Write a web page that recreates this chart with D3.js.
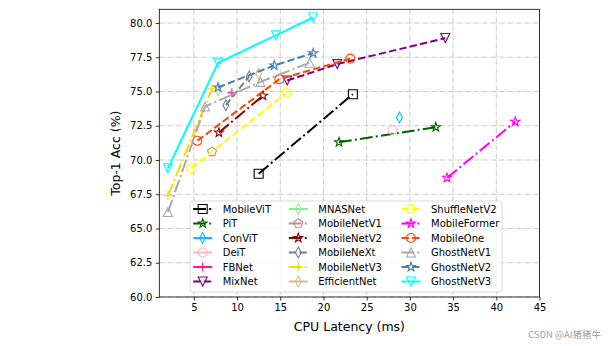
<!DOCTYPE html>
<html><head><meta charset="utf-8">
<script src="https://cdn.jsdelivr.net/npm/d3@7"></script>
<style>body{margin:0;background:#fff;} svg{display:block;font-family:"DejaVu Sans",sans-serif;}</style>
</head><body><svg id="c" width="608" height="346"></svg>
<script>
// ---- data ----
const models = ["MobileViT","PiT","ConViT","DeiT","FBNet","MixNet",
  "MNASNet","MobileNetV1","MobileNetV2","MobileNeXt","MobileNetV3","EfficientNet",
  "ShuffleNetV2","MobileFormer","MobileOne","GhostNetV1","GhostNetV2","GhostNetV3"];
const latency = [
  [12.5, 23.4],
  [21.8, 33.0],
  [28.8],
  [28.0],
  [9.4],
  [15.8, 21.6, 34.1],
  [7.8],
  [7.1],
  [7.9, 13.0],
  [8.7, 11.4],
  [2.0, 7.1],
  [12.5],
  [4.7, 15.7],
  [34.3, 42.2],
  [5.4, 14.9, 23.1],
  [2.0, 6.3, 12.7, 18.4],
  [7.8, 14.3, 18.8],
  [2.0, 7.8, 14.5, 18.8]
];
const accuracy = [
  [69.0, 74.8],
  [71.3, 72.4],
  [73.1],
  [72.2],
  [74.9],
  [75.8, 77.0, 78.9],
  [75.1],
  [70.6],
  [72.0, 74.7],
  [74.0, 76.1],
  [67.4, 75.2],
  [76.3],
  [69.4, 74.9],
  [68.7, 72.8],
  [71.4, 75.9, 77.4],
  [66.2, 73.9, 75.7, 77.1],
  [75.3, 76.9, 77.8],
  [69.4, 77.1, 79.1, 80.4]
];
const xTicks = [5,10,15,20,25,30,35,40,45];
const yTicks = [60,62.5,65,67.5,70,72.5,75,77.5,80];
const xLabel = "CPU Latency (ms)";
const yLabel = "Top-1 Acc (%)";

// ---- styles ----
const colors = ["#000000","#006400","#00bfff","#ffb6c1","#ff1493","#800080",
  "#90ee90","#bc8f8f","#8b0000","#708090","#ffd700","#deb887",
  "#ffff00","#ff00ff","#ff4500","#a9a9a9","#4682b4","#00ffff"];
const markers = ["s","*","d","o","+","v","d","p","*","d","+","d","o","*","o","^","*","v"];
const styles = ["-.","-.","-","-","-","--","-","-.","-.","--","-.","-","--","-.","--","-.","--","-"];
const dashMap = {"-":null,"--":"7.4,3.2","-.":"12.8,3.2,2,3.2",":":"2,3.3"};

const svg = d3.select("#c");
const L=159.3, R=539.5, T=9.3, B=297;
const x = d3.scaleLinear().domain([1,45]).range([L,R]);
const y = d3.scaleLinear().domain([60,81]).range([B,T]);

// grid
const g = svg.append("g");
g.selectAll(".gx").data(xTicks).join("line").attr("x1",d=>x(d)).attr("x2",d=>x(d)).attr("y1",T).attr("y2",B)
  .attr("stroke","#c4c4c4").attr("stroke-width",0.9).attr("stroke-dasharray","5.1,1.3,0.8,1.3");
g.selectAll(".gy").data(yTicks).join("line").attr("y1",d=>y(d)).attr("y2",d=>y(d)).attr("x1",L).attr("x2",R)
  .attr("stroke","#c4c4c4").attr("stroke-width",0.9).attr("stroke-dasharray","5.1,1.3,0.8,1.3");

// axes
const xa = svg.append("g").attr("transform",`translate(0,${B})`)
  .call(d3.axisBottom(x).tickValues(xTicks).tickFormat(d3.format("d")).tickSize(3.5).tickPadding(3.5));
const ya = svg.append("g").attr("transform",`translate(${L},0)`)
  .call(d3.axisLeft(y).tickValues(yTicks).tickFormat(d3.format(".1f")).tickSize(3.5).tickPadding(3.5));
[xa,ya].forEach(a=>{a.select(".domain").remove();a.selectAll("text").attr("font-size",10).attr("fill","#000")
  .attr("font-family","DejaVu Sans");a.selectAll("line").attr("stroke","#000").attr("stroke-width",0.8);});
svg.append("rect").attr("x",L).attr("y",T).attr("width",R-L).attr("height",B-T)
  .attr("fill","none").attr("stroke","#000").attr("stroke-width",0.8);

svg.append("text").attr("x",(L+R)/2).attr("y",331).attr("text-anchor","middle").attr("font-size",12.5).text(xLabel);
svg.append("text").attr("transform",`translate(120,${(T+B)/2}) rotate(-90)`).attr("text-anchor","middle")
  .attr("font-size",12.5).text(yLabel);

// marker paths
const ms = 9;
function markerPath(m){
  const r = ms/2;
  switch(m){
    case "s": return `M${-r},${-r}H${r}V${r}H${-r}Z`;
    case "o": return d3.symbol(d3.symbolCircle, Math.PI*r*r)();
    case "*": {
      const pts=[]; for(let i=0;i<10;i++){const rr=i%2?r*0.42:r*1.05;const a=-Math.PI/2+i*Math.PI/5;pts.push([rr*Math.cos(a),rr*Math.sin(a)]);}
      return "M"+pts.map(p=>p.join(",")).join("L")+"Z";}
    case "d": return `M0,${-r*1.2}L${r*0.65},0L0,${r*1.2}L${-r*0.65},0Z`;
    case "+": return `M${-r},0H${r}M0,${-r}V${r}`;
    case "v": return `M${-r},${-r}H${r}L0,${r}Z`;
    case "^": return `M${-r},${r}H${r}L0,${-r}Z`;
    case "p": {
      const pts=[]; for(let i=0;i<5;i++){const a=-Math.PI/2+i*2*Math.PI/5;pts.push([r*1.05*Math.cos(a),r*1.05*Math.sin(a)]);}
      return "M"+pts.map(p=>p.join(",")).join("L")+"Z";}
  }
}

const line = d3.line().x(d=>x(d[0])).y(d=>y(d[1]));
const plot = svg.append("g");
models.forEach((name,i)=>{
  const pts = latency[i].map((v,j)=>[v,accuracy[i][j]]);
  const gs = plot.append("g");
  if(pts.length>1) gs.append("path").attr("d",line(pts)).attr("fill","none").attr("stroke",colors[i])
    .attr("stroke-width",2).attr("stroke-dasharray",dashMap[styles[i]]);
  gs.selectAll("path.m").data(pts).join("path").attr("class","m")
    .attr("transform",d=>`translate(${x(d[0])},${y(d[1])})`).attr("d",markerPath(markers[i]))
    .attr("fill","none").attr("stroke",colors[i]).attr("stroke-width",1.1);
});

// legend
const lg = svg.append("g");
lg.append("rect").attr("x",190).attr("y",201).attr("width",312).attr("height",91).attr("rx",3)
  .attr("fill","#fff").attr("fill-opacity",0.8).attr("stroke","#d0d0d0").attr("stroke-width",0.8);
const colText=[222.7,318.3,431];
models.forEach((name,i)=>{
  const c=Math.floor(i/6), rI=i%6;
  const ty=209+rI*14.5, tx=colText[c], hx=tx-29.5;
  lg.append("line").attr("x1",hx).attr("x2",hx+19).attr("y1",ty).attr("y2",ty).attr("stroke",colors[i])
    .attr("stroke-width",2).attr("stroke-dasharray",dashMap[styles[i]]);
  lg.append("path").attr("transform",`translate(${hx+9.5},${ty})`).attr("d",markerPath(markers[i]))
    .attr("fill","none").attr("stroke",colors[i]).attr("stroke-width",1.1);
  lg.append("text").attr("x",tx).attr("y",ty).attr("dy","0.35em").attr("font-size",10).text(name);
});

svg.append("text").attr("x",601).attr("y",338).attr("text-anchor","end").attr("font-size",9.5)
  .attr("fill","#a0a0a0").attr("font-family","'Noto Sans CJK SC','DejaVu Sans'").text("CSDN @AI猪猪牛");
</script></body></html>
